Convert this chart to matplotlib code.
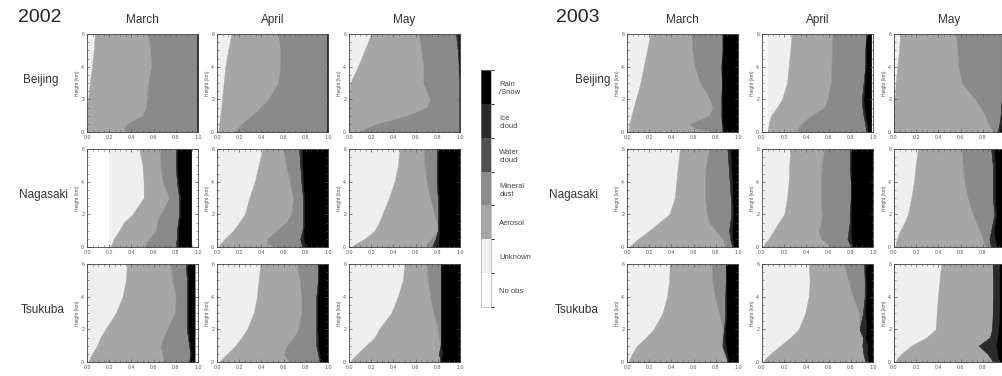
import numpy as np
import matplotlib
matplotlib.use("Agg")
import matplotlib.pyplot as plt
from matplotlib.colors import ListedColormap, BoundaryNorm
from matplotlib.cm import ScalarMappable
from matplotlib.ticker import MultipleLocator

years = ["2002", "2003"]
sites = ["Beijing", "Nagasaki", "Tsukuba"]
months = ["March", "April", "May"]
categories = ["No obs", "Unknown", "Aerosol", "Mineral\ndust",
              "Water\ncloud", "Ice\ncloud", "Rain\n/Snow"]
cat_colors = ["#ffffff", "#efefef", "#a6a6a6", "#8a8a8a",
              "#505050", "#2a2a2a", "#000000"]

# height levels (km)
heights = [0, 0.2, 0.5, 1.0, 1.5, 2.0, 3.0, 4.0, 5.0, 6.0]

# cumulative right edge of each category at each height:
# [no obs, unknown, aerosol, mineral dust, water cloud, ice cloud, rain/snow]
bj02_mar = [
    [0, 0.0, 0.38, 1, 1, 1, 1],
    [0, 0.0, 0.33, 1, 1, 1, 1],
    [0, 0.0, 0.36, 1, 1, 1, 1],
    [0, 0.0, 0.50, 1, 1, 1, 1],
    [0, 0.0, 0.53, 1, 1, 1, 1],
    [0, 0.01, 0.54, 1, 1, 1, 1],
    [0, 0.025, 0.55, 1, 1, 1, 1],
    [0, 0.045, 0.58, 1, 1, 1, 1],
    [0, 0.06, 0.57, 1, 1, 1, 1],
    [0, 0.07, 0.55, 1, 1, 1, 1],
]
bj02_apr = [
    [0, 0.01, 0.15, 1, 1, 1, 1],
    [0, 0.015, 0.18, 1, 1, 1, 1],
    [0, 0.02, 0.22, 1, 1, 1, 1],
    [0, 0.03, 0.31, 1, 1, 1, 1],
    [0, 0.038, 0.39, 1, 1, 1, 1],
    [0, 0.045, 0.46, 1, 1, 1, 1],
    [0, 0.06, 0.55, 1, 1, 1, 1],
    [0, 0.075, 0.57, 1, 1, 1, 1],
    [0, 0.10, 0.57, 1, 1, 1, 1],
    [0, 0.13, 0.55, 1, 1, 1, 1],
]
bj02_may = [
    [0, 0.0, 0.08, 1, 1, 1, 1],
    [0, 0.0, 0.14, 1, 1, 1, 1],
    [0, 0.0, 0.25, 1, 1, 1, 1],
    [0, 0.0, 0.52, 1, 1, 1, 1],
    [0, 0.0, 0.70, 1, 1, 1, 1],
    [0, 0.0, 0.73, 1, 1, 1, 1],
    [0, 0.01, 0.67, 1, 1, 1, 1],
    [0, 0.08, 0.67, 0.99, 0.99, 1, 1],
    [0, 0.14, 0.65, 0.98, 0.98, 1, 1],
    [0, 0.20, 0.63, 0.965, 0.965, 1, 1],
]
ng02_mar = [
    [0.2, 0.21, 0.52, 0.80, 0.80, 0.82, 0.94],
    [0.2, 0.225, 0.53, 0.80, 0.80, 0.82, 0.94],
    [0.2, 0.24, 0.56, 0.81, 0.81, 0.82, 0.94],
    [0.2, 0.29, 0.62, 0.81, 0.81, 0.82, 0.94],
    [0.2, 0.33, 0.63, 0.82, 0.82, 0.83, 0.94],
    [0.2, 0.41, 0.66, 0.83, 0.83, 0.84, 0.94],
    [0.2, 0.51, 0.74, 0.83, 0.83, 0.84, 0.94],
    [0.2, 0.51, 0.68, 0.81, 0.81, 0.82, 0.94],
    [0.2, 0.50, 0.66, 0.80, 0.80, 0.81, 0.94],
    [0.2, 0.47, 0.66, 0.80, 0.80, 0.81, 0.94],
]
ng02_apr = [
    [0, 0.01, 0.55, 0.77, 0.77, 0.79, 1],
    [0, 0.03, 0.45, 0.76, 0.76, 0.79, 1],
    [0, 0.07, 0.45, 0.75, 0.75, 0.78, 1],
    [0, 0.145, 0.535, 0.77, 0.77, 0.78, 1],
    [0, 0.20, 0.62, 0.775, 0.775, 0.785, 1],
    [0, 0.25, 0.67, 0.775, 0.775, 0.785, 1],
    [0, 0.29, 0.685, 0.775, 0.775, 0.785, 1],
    [0, 0.34, 0.655, 0.76, 0.76, 0.775, 1],
    [0, 0.375, 0.62, 0.75, 0.75, 0.77, 1],
    [0, 0.41, 0.60, 0.74, 0.74, 0.765, 1],
]
ng02_may = [
    [0, 0.02, 0.70, 0.76, 0.76, 0.78, 1],
    [0, 0.06, 0.70, 0.76, 0.76, 0.80, 1],
    [0, 0.14, 0.74, 0.78, 0.78, 0.81, 1],
    [0, 0.23, 0.80, 0.80, 0.80, 0.81, 1],
    [0, 0.27, 0.79, 0.80, 0.80, 0.81, 1],
    [0, 0.30, 0.77, 0.80, 0.80, 0.81, 1],
    [0, 0.36, 0.73, 0.80, 0.80, 0.81, 1],
    [0, 0.41, 0.70, 0.79, 0.79, 0.80, 1],
    [0, 0.44, 0.68, 0.79, 0.79, 0.80, 1],
    [0, 0.455, 0.67, 0.79, 0.79, 0.80, 1],
]
tk02_mar = [
    [0, 0.01, 0.69, 0.92, 0.92, 0.93, 0.97],
    [0, 0.025, 0.685, 0.925, 0.925, 0.93, 0.97],
    [0, 0.045, 0.68, 0.93, 0.93, 0.935, 0.97],
    [0, 0.09, 0.66, 0.92, 0.92, 0.93, 0.97],
    [0, 0.12, 0.69, 0.91, 0.91, 0.92, 0.97],
    [0, 0.165, 0.72, 0.90, 0.90, 0.91, 0.97],
    [0, 0.26, 0.79, 0.90, 0.90, 0.91, 0.97],
    [0, 0.32, 0.80, 0.90, 0.90, 0.91, 0.97],
    [0, 0.35, 0.77, 0.90, 0.90, 0.91, 0.97],
    [0, 0.36, 0.75, 0.89, 0.89, 0.90, 0.97],
]
tk02_apr = [
    [0, 0.02, 0.66, 0.925, 0.925, 0.93, 1],
    [0, 0.045, 0.63, 0.92, 0.92, 0.93, 1],
    [0, 0.09, 0.60, 0.91, 0.91, 0.92, 1],
    [0, 0.165, 0.63, 0.895, 0.895, 0.91, 1],
    [0, 0.22, 0.69, 0.895, 0.895, 0.91, 1],
    [0, 0.27, 0.73, 0.895, 0.895, 0.905, 1],
    [0, 0.33, 0.76, 0.895, 0.895, 0.905, 1],
    [0, 0.36, 0.76, 0.895, 0.895, 0.905, 1],
    [0, 0.375, 0.745, 0.91, 0.91, 0.915, 1],
    [0, 0.39, 0.72, 0.91, 0.91, 0.915, 1],
]
tk02_may = [
    [0, 0.01, 0.82, 0.825, 0.825, 0.83, 1],
    [0, 0.03, 0.82, 0.82, 0.82, 0.83, 1],
    [0, 0.075, 0.81, 0.81, 0.81, 0.84, 1],
    [0, 0.15, 0.82, 0.825, 0.825, 0.83, 1],
    [0, 0.23, 0.81, 0.83, 0.83, 0.83, 1],
    [0, 0.27, 0.80, 0.83, 0.83, 0.83, 1],
    [0, 0.38, 0.76, 0.83, 0.83, 0.83, 1],
    [0, 0.44, 0.73, 0.83, 0.83, 0.83, 1],
    [0, 0.485, 0.71, 0.83, 0.83, 0.83, 1],
    [0, 0.50, 0.70, 0.83, 0.83, 0.83, 1],
]
bj03_mar = [
    [0, 0.01, 0.80, 0.86, 0.86, 0.865, 1],
    [0, 0.015, 0.62, 0.86, 0.86, 0.865, 1],
    [0, 0.02, 0.56, 0.855, 0.855, 0.86, 1],
    [0, 0.04, 0.74, 0.85, 0.85, 0.855, 1],
    [0, 0.06, 0.77, 0.85, 0.85, 0.855, 1],
    [0, 0.08, 0.75, 0.85, 0.85, 0.855, 1],
    [0, 0.12, 0.66, 0.855, 0.855, 0.86, 1],
    [0, 0.15, 0.61, 0.85, 0.85, 0.855, 1],
    [0, 0.18, 0.59, 0.86, 0.86, 0.865, 1],
    [0, 0.21, 0.58, 0.86, 0.86, 0.865, 1],
]
bj03_apr = [
    [0.05, 0.05, 0.32, 0.94, 0.94, 0.95, 0.985],
    [0.05, 0.055, 0.32, 0.935, 0.935, 0.95, 0.985],
    [0.05, 0.06, 0.35, 0.93, 0.93, 0.945, 0.985],
    [0.05, 0.08, 0.44, 0.915, 0.915, 0.93, 0.985],
    [0.05, 0.135, 0.56, 0.905, 0.905, 0.92, 0.985],
    [0.05, 0.18, 0.59, 0.90, 0.90, 0.915, 0.985],
    [0.05, 0.225, 0.62, 0.915, 0.915, 0.925, 0.985],
    [0.05, 0.24, 0.625, 0.93, 0.93, 0.935, 0.985],
    [0.05, 0.255, 0.63, 0.93, 0.93, 0.935, 0.985],
    [0.05, 0.265, 0.63, 0.94, 0.94, 0.945, 0.985],
]
bj03_may = [
    [0, 0.0, 0.89, 0.93, 0.93, 0.96, 1],
    [0, 0.0, 0.88, 0.94, 0.94, 0.96, 1],
    [0, 0.0, 0.85, 0.95, 0.95, 0.97, 1],
    [0, 0.0, 0.82, 0.96, 0.96, 0.98, 1],
    [0, 0.0, 0.78, 0.965, 0.965, 0.98, 1],
    [0, 0.006, 0.73, 0.97, 0.97, 0.98, 1],
    [0, 0.015, 0.61, 0.97, 0.97, 0.98, 1],
    [0, 0.03, 0.58, 0.97, 0.97, 0.98, 1],
    [0, 0.045, 0.57, 0.97, 0.97, 0.98, 1],
    [0, 0.055, 0.56, 0.97, 0.97, 0.98, 1],
]
ng03_mar = [
    [0, 0.015, 0.88, 0.95, 0.95, 0.96, 1],
    [0, 0.05, 0.875, 0.94, 0.94, 0.955, 1],
    [0, 0.10, 0.86, 0.93, 0.93, 0.95, 1],
    [0, 0.20, 0.80, 0.92, 0.92, 0.945, 1],
    [0, 0.29, 0.74, 0.93, 0.93, 0.95, 1],
    [0, 0.38, 0.72, 0.94, 0.94, 0.955, 1],
    [0, 0.43, 0.705, 0.935, 0.935, 0.95, 1],
    [0, 0.445, 0.70, 0.925, 0.925, 0.945, 1],
    [0, 0.46, 0.71, 0.915, 0.915, 0.94, 1],
    [0, 0.475, 0.74, 0.905, 0.905, 0.93, 1],
]
ng03_apr = [
    [0.01, 0.01, 0.62, 0.80, 0.80, 0.81, 0.995],
    [0.01, 0.02, 0.59, 0.79, 0.79, 0.81, 0.995],
    [0.01, 0.06, 0.53, 0.77, 0.77, 0.80, 0.995],
    [0.01, 0.105, 0.51, 0.78, 0.78, 0.80, 0.995],
    [0.01, 0.15, 0.53, 0.79, 0.79, 0.80, 0.995],
    [0.01, 0.20, 0.54, 0.79, 0.79, 0.80, 0.995],
    [0.01, 0.225, 0.53, 0.80, 0.80, 0.805, 0.995],
    [0.01, 0.24, 0.53, 0.80, 0.80, 0.805, 0.995],
    [0.01, 0.245, 0.54, 0.79, 0.79, 0.80, 0.995],
    [0.01, 0.255, 0.56, 0.79, 0.79, 0.80, 0.995],
]
ng03_may = [
    [0, 0.01, 0.83, 0.88, 0.88, 0.92, 1],
    [0, 0.015, 0.81, 0.865, 0.865, 0.92, 1],
    [0, 0.025, 0.80, 0.86, 0.86, 0.91, 1],
    [0, 0.055, 0.77, 0.875, 0.875, 0.90, 1],
    [0, 0.095, 0.74, 0.89, 0.89, 0.91, 1],
    [0, 0.125, 0.71, 0.905, 0.905, 0.92, 1],
    [0, 0.155, 0.665, 0.89, 0.89, 0.91, 1],
    [0, 0.18, 0.635, 0.89, 0.89, 0.91, 1],
    [0, 0.195, 0.62, 0.89, 0.89, 0.91, 1],
    [0, 0.215, 0.61, 0.875, 0.875, 0.90, 1],
]
tk03_mar = [
    [0, 0.01, 0.905, 0.905, 0.905, 0.915, 1],
    [0, 0.025, 0.89, 0.90, 0.90, 0.91, 1],
    [0, 0.045, 0.875, 0.885, 0.885, 0.90, 1],
    [0, 0.09, 0.85, 0.86, 0.86, 0.89, 1],
    [0, 0.17, 0.855, 0.865, 0.865, 0.88, 1],
    [0, 0.24, 0.86, 0.875, 0.875, 0.885, 1],
    [0, 0.32, 0.83, 0.885, 0.885, 0.895, 1],
    [0, 0.36, 0.79, 0.885, 0.885, 0.895, 1],
    [0, 0.38, 0.77, 0.89, 0.89, 0.895, 1],
    [0, 0.385, 0.76, 0.89, 0.89, 0.895, 1],
]
tk03_apr = [
    [0, 0.01, 0.935, 0.935, 0.935, 0.96, 1],
    [0, 0.03, 0.92, 0.925, 0.925, 0.955, 1],
    [0, 0.075, 0.91, 0.915, 0.915, 0.95, 1],
    [0, 0.165, 0.90, 0.905, 0.905, 0.95, 1],
    [0, 0.255, 0.905, 0.91, 0.91, 0.93, 1],
    [0, 0.33, 0.875, 0.88, 0.88, 0.94, 1],
    [0, 0.39, 0.875, 0.91, 0.91, 0.93, 1],
    [0, 0.42, 0.82, 0.925, 0.925, 0.935, 1],
    [0, 0.43, 0.775, 0.925, 0.925, 0.935, 1],
    [0, 0.42, 0.74, 0.92, 0.92, 0.93, 1],
]
tk03_may = [
    [0, 0.01, 0.89, 0.895, 0.895, 0.95, 1],
    [0, 0.027, 0.87, 0.875, 0.875, 0.94, 1],
    [0, 0.065, 0.84, 0.845, 0.845, 0.93, 1],
    [0, 0.155, 0.76, 0.765, 0.765, 0.92, 1],
    [0, 0.29, 0.86, 0.865, 0.865, 0.93, 1],
    [0, 0.375, 0.88, 0.885, 0.885, 0.94, 1],
    [0, 0.385, 0.885, 0.89, 0.89, 0.95, 1],
    [0, 0.395, 0.89, 0.895, 0.895, 0.95, 1],
    [0, 0.41, 0.89, 0.895, 0.895, 0.95, 1],
    [0, 0.425, 0.885, 0.89, 0.89, 0.95, 1],
]

panels = {
    "2002": [[bj02_mar, bj02_apr, bj02_may],
             [ng02_mar, ng02_apr, ng02_may],
             [tk02_mar, tk02_apr, tk02_may]],
    "2003": [[bj03_mar, bj03_apr, bj03_may],
             [ng03_mar, ng03_apr, ng03_may],
             [tk03_mar, tk03_apr, tk03_may]],
}

# layout in pixels
W, H = 1002, 376
col_left = {"2002": [87, 217, 349], "2003": [627, 762, 894]}
row_top = [34, 149, 264]
pw, ph = 111, 98
site_x = {"2002": [41, 43, 43], "2003": [593, 574, 577]}
site_y = [80, 195, 310]
year_x = {"2002": 18, "2003": 556}

plt.rcParams["font.family"] = "Liberation Sans"

fig = plt.figure(figsize=(W / 100, H / 100), dpi=100)
fig.patch.set_facecolor("white")


def px_rect(x, y, w, h):
    return [x / W, 1 - (y + h) / H, w / W, h / H]


def draw_panel(ax, data, cut_right=False):
    arr = np.asarray(data, dtype=float)
    left = np.zeros(len(heights))
    for k, color in enumerate(cat_colors):
        right = arr[:, k]
        ax.fill_betweenx(heights, left, right, facecolor=color,
                         edgecolor=color, linewidth=0.3)
        left = right
    ax.set_xlim(0, 1)
    ax.set_ylim(0, 6)
    xt = np.arange(0, 1.01, 0.2)
    ax.set_xticks(xt)
    labels = [f"{v:.1f}" for v in xt]
    if cut_right:
        labels[-1] = ""  # falls outside the picture
    ax.set_xticklabels(labels)
    ax.set_yticks([0, 2, 4, 6])
    ax.xaxis.set_minor_locator(MultipleLocator(0.05))
    ax.yaxis.set_minor_locator(MultipleLocator(0.5))
    ax.tick_params(which="both", direction="in", top=True, right=True,
                   labelsize=3.8, colors="#555555", pad=2)
    ax.tick_params(which="major", length=2.2, width=0.5)
    ax.tick_params(which="minor", length=1.2, width=0.4)
    ax.set_ylabel("Height (km)", fontsize=3.5, color="#555555", labelpad=1)
    for s in ax.spines.values():
        s.set_linewidth(0.6)
        s.set_color("#444444")


for year in years:
    fig.text(year_x[year] / W, 1 - 18 / H, year, fontsize=14,
             ha="left", va="center", color="#222222")
    for j, month in enumerate(months):
        cx = col_left[year][j] + pw / 2
        fig.text(cx / W, 1 - 20 / H, month, fontsize=8.5,
                 ha="center", va="center", color="#333333")
    for i, site in enumerate(sites):
        fig.text(site_x[year][i] / W, 1 - site_y[i] / H, site, fontsize=8.5,
                 ha="center", va="center", color="#333333")
        for j in range(3):
            ax = fig.add_axes(px_rect(col_left[year][j], row_top[i], pw, ph))
            cut = col_left[year][j] + pw >= W
            draw_panel(ax, panels[year][i][j], cut_right=cut)

# category legend bar
cax = fig.add_axes(px_rect(481, 70, 10, 237))
cmap = ListedColormap(cat_colors)
norm = BoundaryNorm(np.arange(len(categories) + 1), cmap.N)
cb = fig.colorbar(ScalarMappable(norm=norm, cmap=cmap), cax=cax,
                  ticks=np.arange(len(categories)) + 0.5)
cb.ax.set_yticklabels(categories)
cb.ax.tick_params(length=0, labelsize=5.5, labelcolor="#444444", pad=6)
cb.outline.set_linewidth(0.4)
cb.outline.set_edgecolor("#999999")

fig.savefig("out.png", dpi=100, facecolor="white")
